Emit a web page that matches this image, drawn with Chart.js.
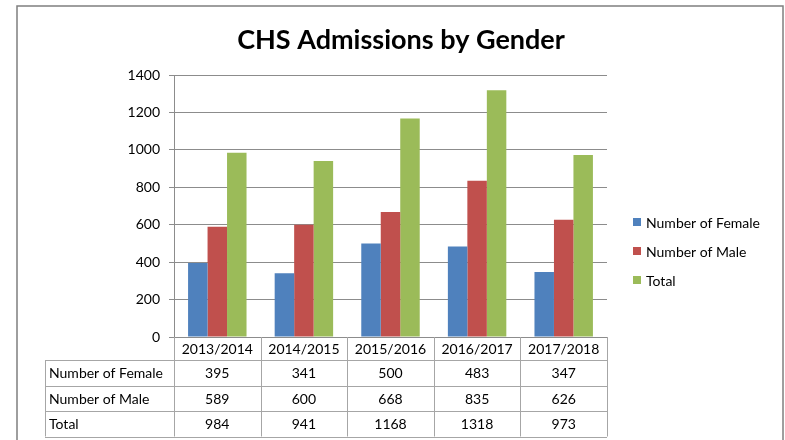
<!DOCTYPE html>
<html>
<head>
<meta charset="utf-8">
<script src="https://cdn.jsdelivr.net/npm/chart.js@4"></script>
<style>
  body { margin: 0; background: #fff; }
  #wrap { width: 785px; height: 440px; }
</style>
</head>
<body>
<div id="wrap"><canvas id="myChart" width="785" height="440"></canvas></div>
<script>
const years = ['2013/2014', '2014/2015', '2015/2016', '2016/2017', '2017/2018'];
const female = [395, 341, 500, 483, 347];
const male = [589, 600, 668, 835, 626];
const total = [984, 941, 1168, 1318, 973];
const chartTitle = 'CHS Admissions by Gender';

const FONT = 'Lato, "Open Sans", sans-serif';
const lineGray = '#8c8c8c';

// draws the frame, title, legend on the right and the data table under the axis
const tablePlugin = {
    id: 'tablePlugin',
    beforeDraw(chart) {
        const ctx = chart.ctx;
        ctx.save();
        ctx.strokeStyle = '#7f7f7f';
        ctx.lineWidth = 1.5;
        ctx.strokeRect(17, 6, 766, 450);
        ctx.fillStyle = '#000';
        ctx.font = 'bold 27px ' + FONT;
        ctx.textAlign = 'center';
        ctx.textBaseline = 'middle';
        ctx.fillText(chartTitle, 401, 40);
        ctx.restore();
    },
    afterDraw(chart) {
        const ctx = chart.ctx;
        const x = chart.scales.x;
        const area = chart.chartArea;
        const n = years.length;
        const cw = (area.right - area.left) / n;
        const top = area.bottom;
        const rowY = [top, top + 23, top + 48.5, top + 74, top + 99.5];
        const labelLeft = 45;
        const ds = chart.data.datasets;

        ctx.save();
        ctx.strokeStyle = '#a6a6a6';
        ctx.lineWidth = 1;
        for (let r = 1; r < rowY.length; r++) {
            const y = Math.round(rowY[r]) + 0.5;
            ctx.beginPath();
            ctx.moveTo(labelLeft, y);
            ctx.lineTo(area.right, y);
            ctx.stroke();
        }
        ctx.beginPath();
        ctx.moveTo(labelLeft + 0.5, rowY[1]);
        ctx.lineTo(labelLeft + 0.5, rowY[4]);
        ctx.stroke();
        for (let i = 0; i <= n; i++) {
            const vx = Math.round(area.left + i * cw) + 0.5;
            ctx.beginPath();
            ctx.moveTo(vx, top);
            ctx.lineTo(vx, rowY[4]);
            ctx.stroke();
        }

        ctx.fillStyle = '#000';
        ctx.font = '14px ' + FONT;
        ctx.textBaseline = 'middle';
        ctx.textAlign = 'center';
        years.forEach((yr, i) => {
            ctx.fillText(yr, x.getPixelForValue(i), (rowY[0] + rowY[1]) / 2 + 1);
        });
        ds.forEach((d, r) => {
            const cy = (rowY[r + 1] + rowY[r + 2]) / 2 + 1;
            ctx.textAlign = 'left';
            ctx.fillText(d.label, labelLeft + 4, cy);
            ctx.textAlign = 'center';
            d.data.forEach((v, i) => {
                ctx.fillText(String(v), x.getPixelForValue(i), cy);
            });
        });

        // legend
        const lx = 633;
        const ly = [222, 251, 280];
        ds.forEach((d, r) => {
            ctx.fillStyle = d.backgroundColor;
            ctx.fillRect(lx, ly[r] - 4, 8, 8);
            ctx.fillStyle = '#000';
            ctx.textAlign = 'left';
            ctx.fillText(d.label, lx + 13, ly[r] + 1);
        });
        ctx.restore();
    }
};

const data = {
    labels: years,
    datasets: [
        { label: 'Number of Female', data: female, backgroundColor: '#4f81bd' },
        { label: 'Number of Male', data: male, backgroundColor: '#c0504d' },
        { label: 'Total', data: total, backgroundColor: '#9bbb59' }
    ]
};

const options = {
    responsive: false,
    animation: false,
    layout: {
        padding: { left: 17, right: 178, top: 75, bottom: 103 }
    },
    datasets: {
        bar: { categoryPercentage: 0.675, barPercentage: 1 }
    },
    scales: {
        y: {
            min: 0,
            max: 1400,
            ticks: {
                stepSize: 200,
                padding: 9,
                color: '#000',
                font: { family: FONT, size: 14 },
                callback: (v) => String(v)
            },
            grid: { color: lineGray, tickLength: 5 },
            border: { color: lineGray },
            afterFit(scale) { scale.width = 157; }
        },
        x: {
            grid: { display: false, drawTicks: false },
            ticks: { display: false },
            border: { color: lineGray },
            afterFit(scale) { scale.height = 0; }
        }
    },
    plugins: {
        legend: { display: false },
        tooltip: { enabled: false },
        title: { display: false }
    }
};

const canvas = document.getElementById('myChart');
const myChart = new Chart(canvas.getContext('2d'), {
    type: 'bar',
    data: data,
    options: options,
    plugins: [tablePlugin]
});
</script>
</body>
</html>
